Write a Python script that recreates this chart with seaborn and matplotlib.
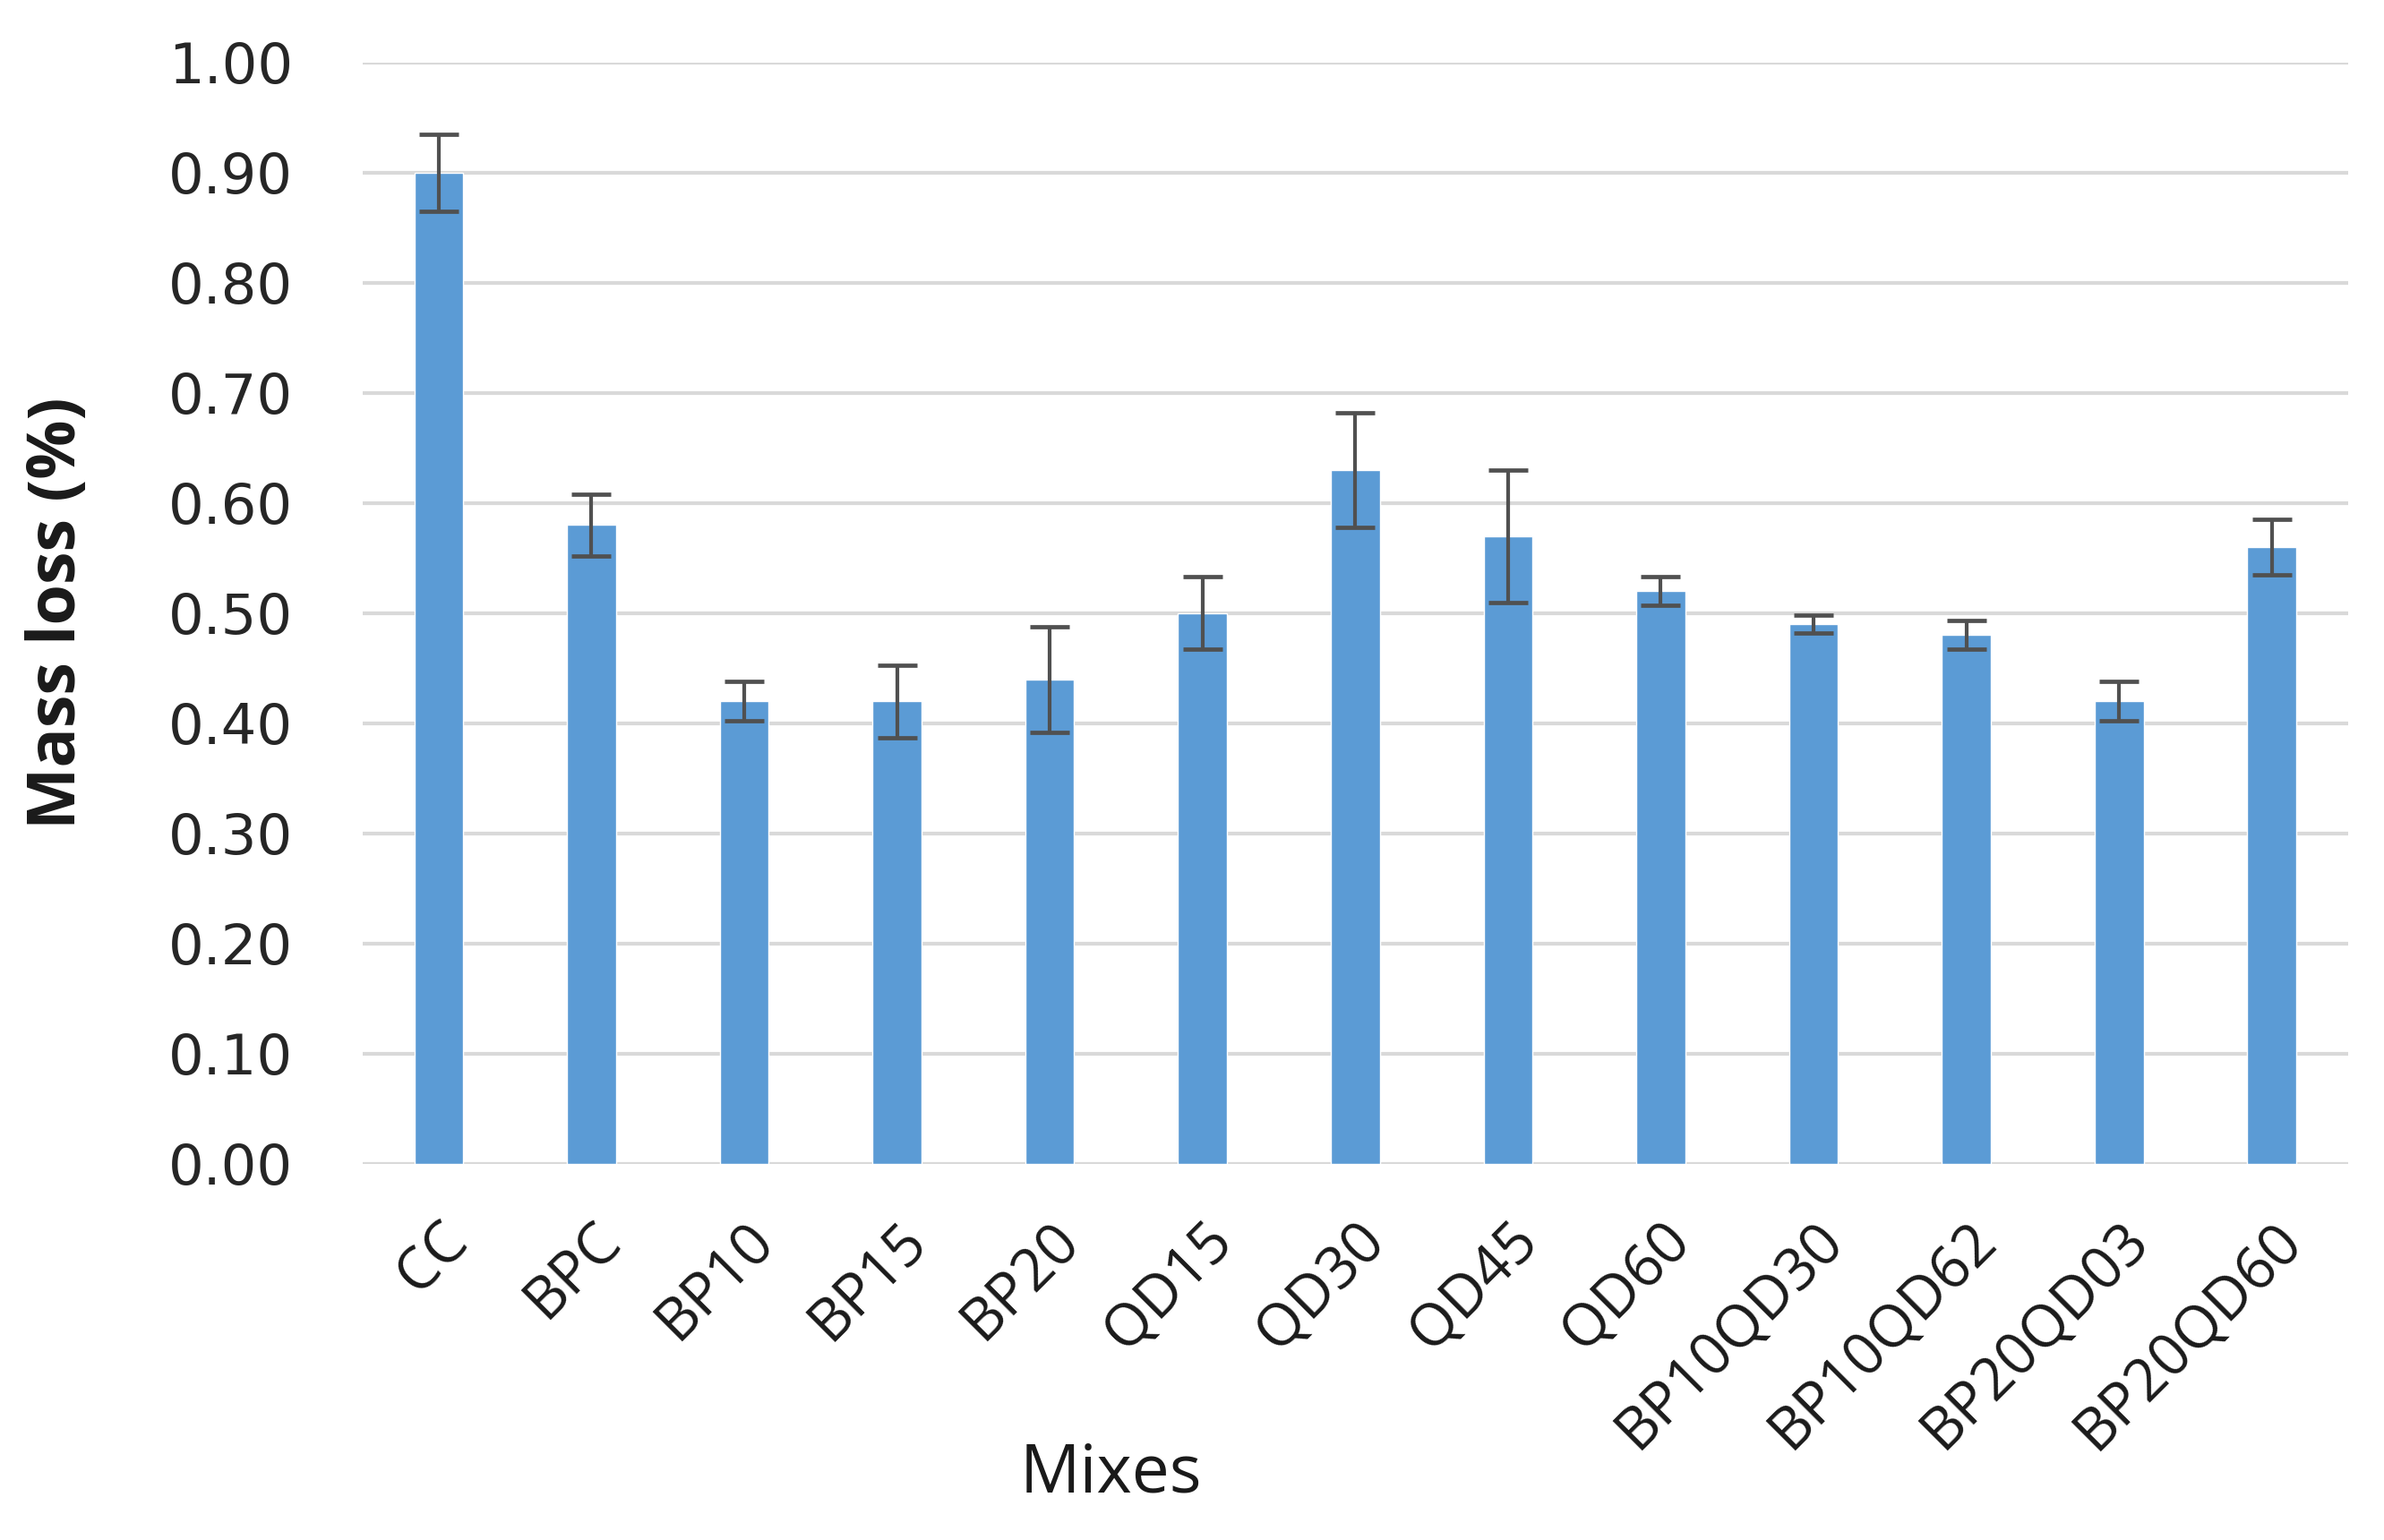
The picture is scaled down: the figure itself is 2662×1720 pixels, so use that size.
import matplotlib
matplotlib.use("Agg")
import matplotlib.pyplot as plt
import seaborn as sns
import numpy as np
import pandas as pd

categories = ["CC", "BPC", "BP10", "BP15", "BP20", "QD15", "QD30", "QD45",
              "QD60", "BP10QD30", "BP10QD62", "BP20QD03", "BP20QD60"]
mass_loss = [0.90, 0.58, 0.42, 0.42, 0.44, 0.50, 0.63, 0.57, 0.52, 0.49, 0.48, 0.42, 0.56]
errors = [0.035, 0.028, 0.018, 0.033, 0.048, 0.033, 0.052, 0.060, 0.013, 0.008, 0.013, 0.018, 0.025]
y_ticks = [0.0, 0.1, 0.2, 0.3, 0.4, 0.5, 0.6, 0.7, 0.8, 0.9, 1.0]

df = pd.DataFrame({"Mixes": categories, "Mass loss": mass_loss})

sns.set_style("white")
plt.rcParams['font.family'] = ['Open Sans', 'DejaVu Sans']

fig = plt.figure(figsize=(26.62, 17.20), dpi=100)
ax = fig.add_axes([0.152, 0.2442, 0.833, 0.7153])

sns.barplot(data=df, x="Mixes", y="Mass loss", color="#5b9bd5", saturation=1,
            width=0.32, ax=ax, zorder=3)
pos = np.arange(len(categories))
ax.errorbar(pos, mass_loss, yerr=errors, fmt="none", ecolor="#505050",
            elinewidth=3.0, capsize=16, capthick=3.4, zorder=4)

ax.set_ylim(0, 1.0)
ax.set_xlim(-0.5, len(categories) - 0.5)
ax.set_yticks(y_ticks)
ax.set_yticklabels([f"{t:.2f}" for t in y_ticks], family="DejaVu Sans",
                   fontsize=45, color="#262626")
ax.yaxis.grid(True, color="#d9d9d9", linewidth=3.0, zorder=0)
ax.set_axisbelow(True)
for s in ax.spines.values():
    s.set_visible(False)
ax.tick_params(axis="y", length=0, pad=56)
ax.tick_params(axis="x", length=0, pad=38)
ax.set_xticks(pos)
ax.set_xticklabels(categories, rotation=45, ha="right", rotation_mode="anchor",
                   fontsize=47, color="#1a1a1a")

ax.set_xlabel("Mixes", fontsize=54, color="#1a1a1a")
ax.xaxis.set_label_coords(0.377, -0.282)
ax.set_ylabel("Mass loss (%)", fontsize=53, fontweight="bold", color="#1a1a1a")
ax.yaxis.set_label_coords(-0.153, 0.5)
ax.yaxis.label.set_va("center")
ax.xaxis.label.set_va("center")

fig.savefig("out.png", dpi=100, facecolor="white")
